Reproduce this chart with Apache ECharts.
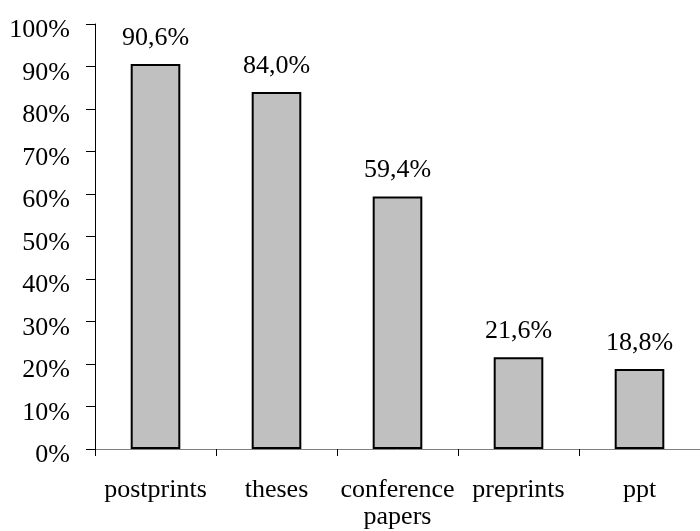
<!DOCTYPE html>
<html>
<head>
<meta charset="utf-8">
<script src="https://cdn.jsdelivr.net/npm/echarts@6/dist/echarts.min.js"></script>
<style>
html,body{margin:0;padding:0;background:#fff;}
#c{width:700px;height:531px;}
</style>
</head>
<body>
<div id="c"></div>
<script>
var categories = ['postprints', 'theses', 'conference\npapers', 'preprints', 'ppt'];
var values = [90.6, 84.0, 59.4, 21.6, 18.8];
var valueLabels = ['90,6%', '84,0%', '59,4%', '21,6%', '18,8%'];

var FONT = '"Liberation Serif", "Times New Roman", serif';
var chart = echarts.init(document.getElementById('c'), null, {renderer: 'canvas'});
chart.setOption({
  animation: false,
  backgroundColor: '#fff',
  grid: {left: 95, right: 0, top: 24, bottom: 82, containLabel: false, outerBoundsMode: 'none'},
  xAxis: {
    type: 'category',
    data: categories,
    axisLine: {show: true, lineStyle: {color: '#808080', width: 1}},
    axisTick: {show: true, length: 7, alignWithLabel: false, lineStyle: {color: '#000', width: 1}},
    axisLabel: {
      margin: 28,
      fontFamily: FONT,
      fontSize: 26,
      color: '#000',
      lineHeight: 27,
      interval: 0
    },
    splitLine: {show: false}
  },
  yAxis: {
    type: 'value',
    min: 0,
    max: 100,
    interval: 10,
    axisLine: {show: true, lineStyle: {color: '#000', width: 1}},
    axisTick: {show: true, length: 9, inside: false, lineStyle: {color: '#000', width: 1}},
    axisLabel: {
      margin: 25,
      fontFamily: FONT,
      fontSize: 26,
      color: '#000',
      verticalAlign: 'top',
      lineHeight: 13,
      formatter: function (v) { return v + '%'; }
    },
    splitLine: {show: false}
  },
  series: [{
    type: 'bar',
    data: values,
    barWidth: '41%',
    itemStyle: {color: '#C0C0C0', borderColor: '#000', borderWidth: 2},
    label: {
      show: true,
      position: 'top',
      distance: 13,
      fontFamily: FONT,
      fontSize: 26,
      color: '#000',
      formatter: function (p) { return valueLabels[p.dataIndex]; }
    }
  }]
});
</script>
</body>
</html>
